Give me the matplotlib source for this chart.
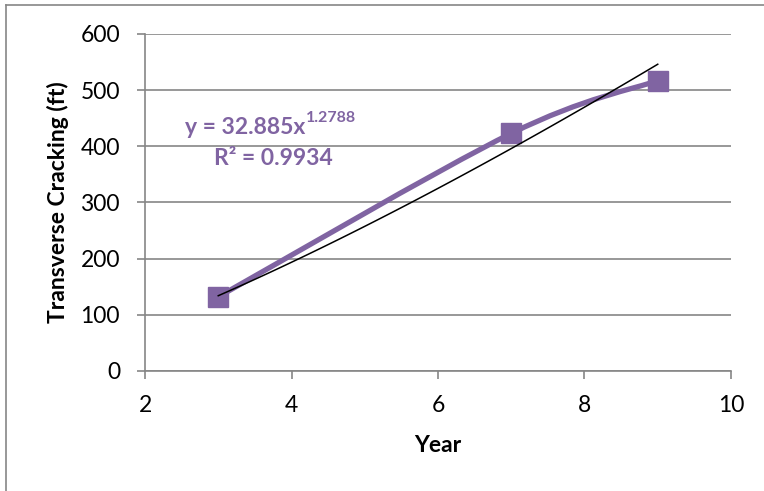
import numpy as np
import matplotlib.pyplot as plt
from matplotlib.path import Path
from matplotlib.patches import PathPatch
from matplotlib.lines import Line2D

plt.rcParams['font.family'] = ['Lato', 'DejaVu Sans']

# measured cracking by pavement age
years = [3, 7, 9]
cracking = [132, 423, 517]

# power trendline y = a * x^b
coef_a = 32.885
coef_b = 1.2788
r_squared = 0.9934

purple = '#8064A2'
grey = '#868686'

fig = plt.figure(figsize=(7.64, 4.91), dpi=100)
ax = fig.add_axes([0.1898, 0.2444, 0.767, 0.6864])

# chart border (clipped at right and bottom)
fig.add_artist(Line2D([0.0072, 0.0072], [0, 0.989], color=grey, lw=1.2,
                      transform=fig.transFigure))
fig.add_artist(Line2D([0.0072, 1], [0.989, 0.989], color=grey, lw=1.2,
                      transform=fig.transFigure))

ax.set_xlim(2, 10)
ax.set_ylim(0, 600)
ax.set_xticks([2, 4, 6, 8, 10])
ax.set_yticks(range(0, 601, 100))
ax.grid(axis='y', color=grey, lw=1.2)
ax.set_axisbelow(True)
for side in ['top', 'right']:
    ax.spines[side].set_visible(False)
for side in ['left', 'bottom']:
    ax.spines[side].set_color(grey)
    ax.spines[side].set_linewidth(1.2)
ax.tick_params(colors=grey, width=1.2, length=6, labelsize=16.5, labelcolor='black')
ax.tick_params(axis='y', pad=12)
ax.tick_params(axis='x', pad=11)

# smoothed series line (Catmull-Rom style bezier through the points)
pts = np.column_stack([years, cracking]).astype(float)
ext = np.vstack([pts[0], pts, pts[-1]])
verts = [pts[0]]
codes = [Path.MOVETO]
for i in range(len(pts) - 1):
    p0, p1, p2, p3 = ext[i], ext[i + 1], ext[i + 2], ext[i + 3]
    verts += [p1 + (p2 - p0) / 6, p2 - (p3 - p1) / 6, p2]
    codes += [Path.CURVE4] * 3
ax.add_patch(PathPatch(Path(verts, codes), fill=False, edgecolor=purple,
                       lw=3.8, capstyle='round', zorder=3))
ax.plot(years, cracking, 's', color=purple, markersize=15, zorder=4)

# trendline
xt = np.linspace(years[0], years[-1], 100)
ax.plot(xt, coef_a * xt ** coef_b, color='black', lw=1.1, zorder=5)

# trendline equation and R squared
eq = ax.text(2.55, 434, 'y = %.3fx' % coef_a, color=purple, fontsize=16.5,
             fontweight='bold', ha='left', va='center')
ax.annotate('%.4f' % coef_b, xy=(1, 0.62), xycoords=eq, color=purple,
            fontsize=11.5, fontweight='bold', ha='left', va='bottom')
ax.text(3.75, 378, 'R² = %.4f' % r_squared, color=purple, fontsize=16.5,
        fontweight='bold', ha='center', va='center')

ax.set_xlabel('Year', fontsize=16.5, fontweight='bold', labelpad=14)
ax.set_ylabel('Transverse Cracking (ft)', fontsize=16.5, fontweight='bold', labelpad=8)

fig.savefig('out.png', dpi=100)
